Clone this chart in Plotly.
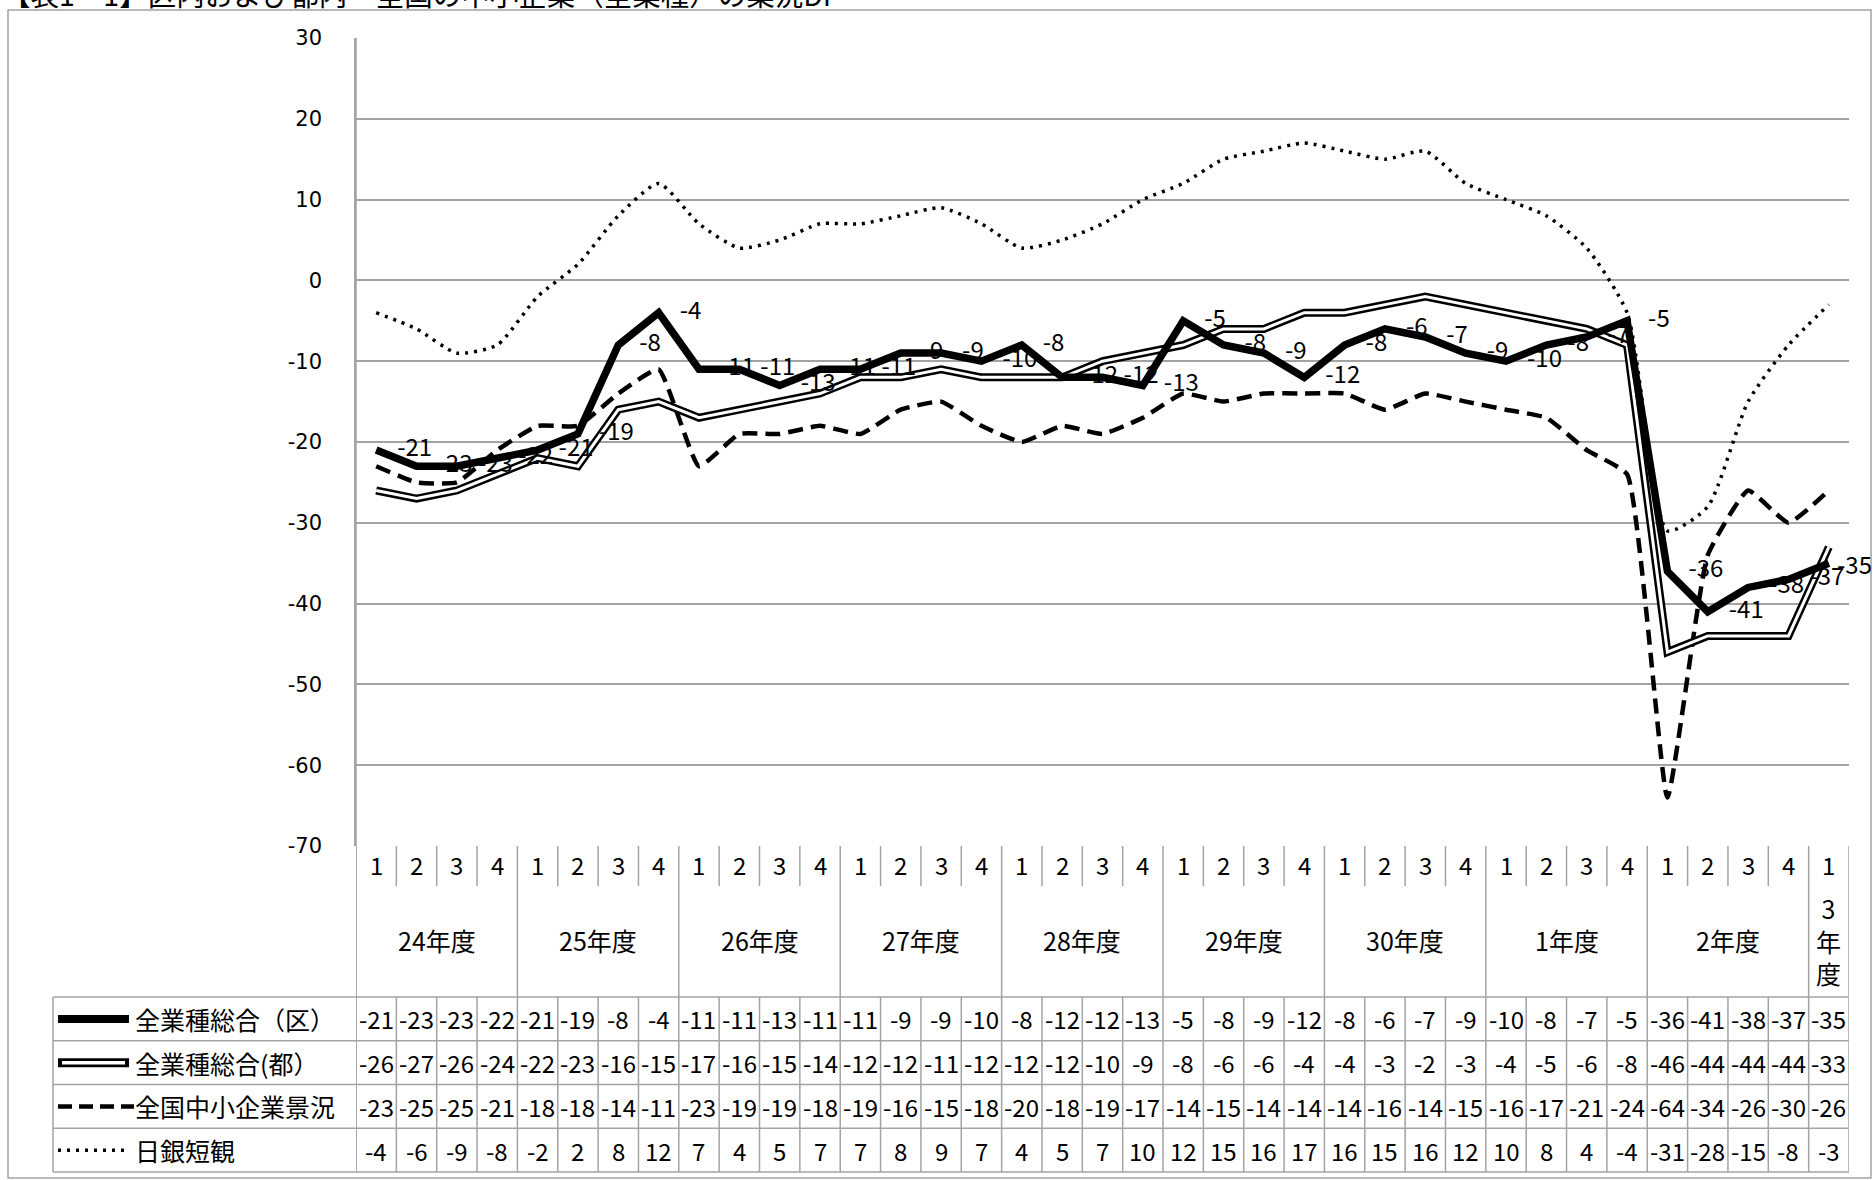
import plotly.graph_objects as go

# ---------------- data ----------------
title_text = "【表1－1】区内および都内・全国の中小企業（全業種）の業況DI"
quarters = ["1", "2", "3", "4"] * 9 + ["1"]
years = ["24年度", "25年度", "26年度", "27年度", "28年度", "29年度", "30年度", "1年度", "2年度", "3<br>年<br>度"]
year_spans = [4, 4, 4, 4, 4, 4, 4, 4, 4, 1]
y_ticks = [30, 20, 10, 0, -10, -20, -30, -40, -50, -60, -70]
y_tick_labels = ["30", "20", "10", "0", "-10", "-20", "-30", "-40", "-50", "-60", "-70"]

series_names = ["全業種総合（区）", "全業種総合(都）", "全国中小企業景況", "日銀短観"]

zone = [-21, -23, -23, -22, -21, -19, -8, -4, -11, -11, -13, -11, -11, -9, -9, -10,
        -8, -12, -12, -13, -5, -8, -9, -12, -8, -6, -7, -9, -10, -8, -7, -5,
        -36, -41, -38, -37, -35]
tokyo = [-26, -27, -26, -24, -22, -23, -16, -15, -17, -16, -15, -14, -12, -12, -11, -12,
         -12, -12, -10, -9, -8, -6, -6, -4, -4, -3, -2, -3, -4, -5, -6, -8,
         -46, -44, -44, -44, -33]
national = [-23, -25, -25, -21, -18, -18, -14, -11, -23, -19, -19, -18, -19, -16, -15, -18,
            -20, -18, -19, -17, -14, -15, -14, -14, -14, -16, -14, -15, -16, -17, -21, -24,
            -64, -34, -26, -30, -26]
tankan = [-4, -6, -9, -8, -2, 2, 8, 12, 7, 4, 5, 7, 7, 8, 9, 7,
          4, 5, 7, 10, 12, 15, 16, 17, 16, 15, 16, 12, 10, 8, 4, -4,
          -31, -28, -15, -8, -3]

table_rows = [zone, tokyo, national, tankan]
idx = list(range(len(quarters)))

# ---------------- geometry helpers (pixels -> paper) ----------------
W, H = 1873, 1180
L, R, T, B = 356, 1849, 38, 846


def py(p):
    return (B - p) / (B - T)


def px(p):
    return (p - L) / (R - L)


FONT = "Noto Sans CJK JP"
GRID = "#a3a3a3"

fig = go.Figure()

fig.add_trace(go.Scatter(x=idx, y=tankan, mode="lines", line=dict(color="black", width=3.5, dash="3px,6px", shape="spline", smoothing=0.6)))
fig.add_trace(go.Scatter(x=idx, y=national, mode="lines", line=dict(color="black", width=4.5, dash="15px,8px", shape="spline", smoothing=0.4)))
fig.add_trace(go.Scatter(x=idx, y=tokyo, mode="lines", line=dict(color="black", width=8)))
fig.add_trace(go.Scatter(x=idx, y=tokyo, mode="lines", line=dict(color="white", width=3)))
fig.add_trace(go.Scatter(x=idx, y=zone, mode="lines", line=dict(color="black", width=7.5)))
# data labels of 区 (last one kept inside the frame via an annotation)
fig.add_trace(go.Scatter(x=idx[:-1], y=zone[:-1], mode="markers+text", marker=dict(size=32, opacity=0),
                         text=[str(v) for v in zone[:-1]], textposition="middle right",
                         textfont=dict(family=FONT, size=24, color="black"), cliponaxis=False))

shapes = []
annotations = []

annotations.append(dict(xref="x", yref="y", x=idx[-1], y=zone[-1], text=str(zone[-1]), showarrow=False,
                        xanchor="left", yanchor="middle", xshift=6,
                        font=dict(family=FONT, size=24, color="black")))

# outer frame
shapes.append(dict(type="rect", xref="paper", yref="paper", x0=px(8), x1=px(1871), y0=py(10), y1=py(1178),
                   line=dict(color=GRID, width=1.5), layer="below"))

# y axis line extension through table
shapes.append(dict(type="line", xref="x", yref="paper", x0=-0.5, x1=-0.5, y0=py(T), y1=py(1172),
                   line=dict(color=GRID, width=1.5)))

# vertical boundaries of category header
year_bounds = [0]
for s in year_spans:
    year_bounds.append(year_bounds[-1] + s)
n = len(quarters)
for b in range(n + 1):
    xb = b - 0.5
    bottom = 997 if b in year_bounds else 886
    shapes.append(dict(type="line", xref="x", yref="paper", x0=xb, x1=xb, y0=py(B), y1=py(bottom),
                       line=dict(color=GRID, width=1.5)))
    shapes.append(dict(type="line", xref="x", yref="paper", x0=xb, x1=xb, y0=py(997), y1=py(1172),
                       line=dict(color=GRID, width=1.5)))

# data table
row_tops = [997, 1040.75, 1084.5, 1128.25, 1172]
shapes.append(dict(type="line", xref="paper", yref="paper", x0=px(53), x1=px(53), y0=py(997), y1=py(1172),
                   line=dict(color=GRID, width=1.5)))
for yt in row_tops:
    shapes.append(dict(type="line", xref="paper", yref="paper", x0=px(53), x1=1, y0=py(yt), y1=py(yt),
                       line=dict(color=GRID, width=1.5)))

for r, vals in enumerate(table_rows):
    yc = (row_tops[r] + row_tops[r + 1]) / 2
    for i, v in enumerate(vals):
        annotations.append(dict(xref="x", yref="paper", x=i, y=py(yc), text=str(v), showarrow=False,
                                font=dict(family=FONT, size=24, color="black"), xanchor="center", yanchor="middle"))
    annotations.append(dict(xref="paper", yref="paper", x=px(133), y=py(yc), text=series_names[r], showarrow=False,
                            font=dict(family=FONT, size=25, color="black"), xanchor="left", yanchor="middle"))

# legend samples
c = [(row_tops[r] + row_tops[r + 1]) / 2 for r in range(4)]
shapes.append(dict(type="line", xref="paper", yref="paper", x0=px(58), x1=px(129), y0=py(c[0]), y1=py(c[0]),
                   line=dict(color="black", width=8)))
shapes.append(dict(type="line", xref="paper", yref="paper", x0=px(58), x1=px(129), y0=py(c[1]), y1=py(c[1]),
                   line=dict(color="black", width=9)))
shapes.append(dict(type="line", xref="paper", yref="paper", x0=px(62), x1=px(125), y0=py(c[1]), y1=py(c[1]),
                   line=dict(color="white", width=3.5)))
shapes.append(dict(type="line", xref="paper", yref="paper", x0=px(58), x1=px(134), y0=py(c[2]), y1=py(c[2]),
                   line=dict(color="black", width=4.5, dash="14px,7px")))
shapes.append(dict(type="line", xref="paper", yref="paper", x0=px(58), x1=px(130), y0=py(c[3]), y1=py(c[3]),
                   line=dict(color="black", width=3.5, dash="3px,6px")))

# quarter numbers
for i, q in enumerate(quarters):
    annotations.append(dict(xref="x", yref="paper", x=i, y=py(864), text=q, showarrow=False,
                            font=dict(family=FONT, size=24, color="black"), xanchor="center", yanchor="middle"))
# year labels
for k, (lab, s) in enumerate(zip(years, year_spans)):
    xc = year_bounds[k] + (s - 1) / 2
    annotations.append(dict(xref="x", yref="paper", x=xc, y=py(940), text=lab, showarrow=False,
                            font=dict(family=FONT, size=25, color="black"), xanchor="center", yanchor="middle"))

# title (partially cut at top like the reference)
annotations.append(dict(xref="paper", yref="paper", x=px(0), y=py(-7), text=title_text, showarrow=False,
                        font=dict(family=FONT, size=28.5, color="black"), xanchor="left", yanchor="middle"))

fig.update_layout(
    width=W, height=H, autosize=False,
    margin=dict(l=L, r=W - R, t=T, b=H - B, pad=0),
    paper_bgcolor="white", plot_bgcolor="white",
    showlegend=False,
    shapes=shapes, annotations=annotations,
    xaxis=dict(range=[-0.5, n - 0.5], showticklabels=False, showgrid=False, zeroline=False, showline=False,
               fixedrange=True),
    yaxis=dict(range=[-70, 30], tickmode="array", tickvals=y_ticks, ticktext=y_tick_labels,
               showgrid=True, gridcolor=GRID, gridwidth=1.5,
               zeroline=False, showline=True, linecolor=GRID, linewidth=1.5, ticks="",
               ticklabelstandoff=28, tickfont=dict(family="DejaVu Sans", size=21, color="black"),
               fixedrange=True),
)

fig.write_html("out.html", config={"displayModeBar": False},
               post_script="document.body.style.margin='0';document.body.style.overflow='hidden';")
